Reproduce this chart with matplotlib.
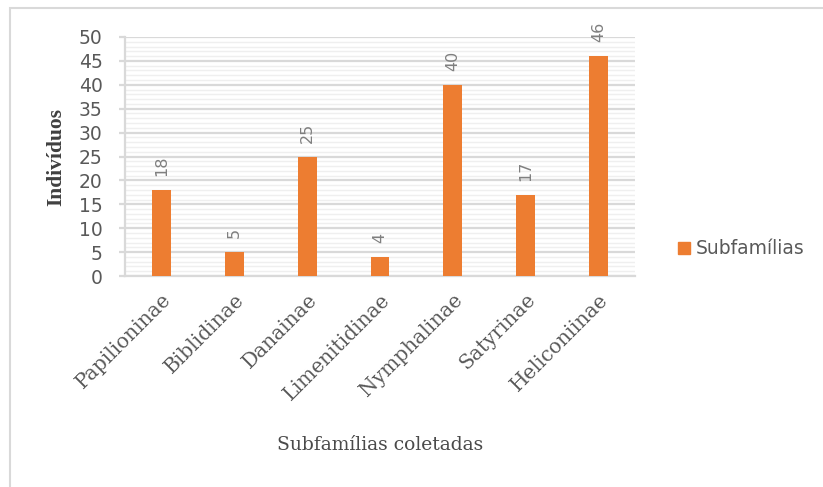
import matplotlib
matplotlib.use("Agg")
import matplotlib.pyplot as plt
from matplotlib.patches import Rectangle, Patch
from matplotlib.ticker import MultipleLocator

categories = ["Papilioninae", "Biblidinae", "Danainae", "Limenitidinae",
              "Nymphalinae", "Satyrinae", "Heliconiinae"]
values = [18, 5, 25, 4, 40, 17, 46]
series_name = "Subfamílias"
x_title = "Subfamílias coletadas"
y_title = "Indivíduos"

W, H = 823, 487
fig = plt.figure(figsize=(W / 100, H / 100), dpi=100)
ax = fig.add_axes([125 / W, 1 - 276 / H, (635 - 125) / W, (276 - 37) / H])

bar_color = "#ED7D31"
text_gray = "#595959"
grid_major = "#D9D9D9"
grid_minor = "#EFEFEF"

xs = list(range(len(categories)))
ax.bar(xs, values, width=0.26, color=bar_color, zorder=3, label=series_name)

ax.set_xlim(-0.5, len(categories) - 0.5)
ax.set_ylim(0, 50)
ax.yaxis.set_major_locator(MultipleLocator(5))
ax.yaxis.set_minor_locator(MultipleLocator(1))
ax.grid(axis="y", which="major", color=grid_major, lw=1.6, zorder=1)
ax.grid(axis="y", which="minor", color=grid_minor, lw=1.0, zorder=0)

for s in ["top", "right"]:
    ax.spines[s].set_visible(False)
for s in ["left", "bottom"]:
    ax.spines[s].set_color(grid_major)
    ax.spines[s].set_linewidth(1.6)

ax.tick_params(axis="y", which="major", length=4, color=grid_major, width=1.6,
               labelsize=13.5, labelcolor=text_gray, pad=12)
ax.tick_params(axis="y", which="minor", length=0)
ax.tick_params(axis="x", length=0, pad=10)
for lab in ax.get_yticklabels():
    lab.set_family("DejaVu Sans")

ax.set_xticks(xs)
ax.set_xticklabels(categories, rotation=45, ha="right", rotation_mode="anchor",
                   family="DejaVu Serif", fontsize=14.5, color=text_gray)

for x, v in zip(xs, values):
    ax.annotate(str(v), (x, v), xytext=(0, 10), textcoords="offset points",
                rotation=90, ha="center", va="bottom", fontsize=11.5,
                color="#7f7f7f", family="DejaVu Sans")

ax.set_ylabel(y_title, family="Liberation Serif", fontsize=15.5,
              fontweight="bold", color="#404040")
ax.yaxis.set_label_coords((66 - 125) / 510, 0.5)
ax.set_xlabel(x_title, family="DejaVu Serif", fontsize=13.5, color="#4a4a4a")
ax.xaxis.set_label_coords(0.5, (276 - 436) / 239)

leg = fig.legend(handles=[Patch(color=bar_color, label=series_name)],
                 loc="center left", bbox_to_anchor=(661 / W, 1 - 249 / H),
                 frameon=False, handlelength=0.65, handleheight=0.65,
                 handletextpad=0.3, prop={"family": "DejaVu Sans", "size": 13.5})
for t in leg.get_texts():
    t.set_color(text_gray)

fig.patches.append(Rectangle((10 / W, -0.01), 1.0, 1 - 8 / H + 0.01,
                             transform=fig.transFigure, fill=False,
                             edgecolor="#D9D9D9", lw=1.5))

fig.savefig("out.png", dpi=100)
